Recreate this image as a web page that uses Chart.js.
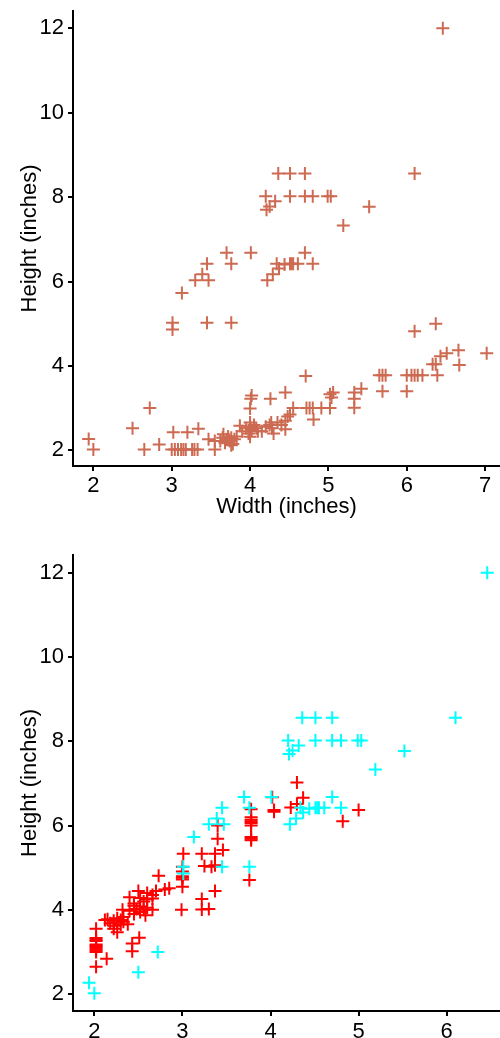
<!DOCTYPE html>
<html><head><meta charset="utf-8">
<script src="https://cdn.jsdelivr.net/npm/chart.js@4.4.0/dist/chart.umd.min.js"></script>
<style>
html,body{margin:0;padding:0;background:#fff;width:500px;height:1038px;overflow:hidden;}
canvas{position:absolute;left:0;}
#c1{top:0}
#c2{top:520px}
</style></head><body>
<canvas id="c1" width="500" height="520"></canvas>
<canvas id="c2" width="500" height="518"></canvas>
<script>
// ---------- DATA ----------
// Top chart: points whose height exceeds width
const tallWidth  = [1.94,2.00,2.50,2.72,3.01,3.01,3.13,3.30,3.39,3.47,3.45,3.45,3.70,3.76,3.76,4.01,4.22,4.29,4.37,4.44,4.34,4.51,4.53,4.55,4.61,4.80,4.70,4.20,4.51,4.70,4.80,4.99,5.03,4.32,4.25,4.21,4.36,4.51,4.70,6.10,5.52,5.19,6.46];
const tallHeight = [2.27,2.02,2.52,3.00,5.02,4.86,5.73,6.03,6.17,6.03,6.42,5.02,6.68,6.42,5.02,6.68,6.03,6.17,6.31,6.40,6.42,6.42,6.42,6.42,6.42,6.42,6.68,8.02,8.02,8.02,8.02,8.02,8.02,7.90,7.78,7.70,8.56,8.56,8.56,8.56,7.77,7.33,12.0];
// Top chart: points whose width exceeds height
const wideWidth  = [2.65,2.84,3.00,3.04,3.08,3.12,3.15,3.18,3.26,3.29,3.33,3.55,3.02,3.20,3.34,3.47,3.55,3.62,3.65,3.68,3.70,3.72,3.74,3.76,3.78,3.80,3.76,3.83,3.66,3.87,3.90,3.95,3.98,4.00,4.02,4.05,4.08,4.10,4.00,4.00,4.00,4.01,4.02,4.15,4.20,4.25,4.28,4.30,4.35,4.40,4.45,4.48,4.51,4.45,4.27,4.26,4.45,4.55,4.72,4.76,4.80,4.91,5.02,4.81,4.71,5.02,5.06,5.04,5.33,5.33,5.33,5.42,5.65,5.69,5.73,5.69,6.00,6.06,6.10,6.14,6.20,6.00,6.39,6.33,6.37,6.43,6.51,6.66,6.67,7.02,6.10,6.37];
const wideHeight = [2.02,2.14,2.02,2.02,2.02,2.02,2.02,2.02,2.02,2.02,2.02,2.02,2.43,2.43,2.51,2.26,2.22,2.22,2.30,2.18,2.26,2.33,2.22,2.30,2.15,2.26,2.12,2.33,2.38,2.58,2.45,2.52,2.40,2.56,2.48,2.60,2.52,2.45,2.66,2.32,2.99,3.22,3.30,2.45,2.56,2.60,2.52,2.40,2.66,2.60,2.70,2.80,2.85,2.50,2.66,3.22,3.37,3.00,3.00,3.00,3.00,3.00,3.00,2.73,3.76,3.33,3.37,3.25,3.37,3.22,3.01,3.46,3.78,3.78,3.78,3.40,3.78,3.78,3.78,3.78,3.78,3.40,3.78,4.04,4.04,4.23,4.30,4.37,4.02,4.30,4.82,5.00];

// Bottom chart: cyan series
const cyanX = [1.94,2.00,2.50,2.72,3.01,3.01,3.13,3.30,3.39,3.47,3.45,3.45,3.70,3.76,3.76,4.01,4.22,4.29,4.37,4.44,4.34,4.51,4.53,4.55,4.61,4.80,4.70,4.20,4.51,4.70,4.80,4.99,5.03,4.32,4.25,4.21,4.36,4.51,4.70,6.10,5.52,5.19,6.46];
const cyanY = [2.27,2.02,2.52,3.00,5.02,4.86,5.73,6.03,6.17,6.03,6.42,5.02,6.68,6.42,5.02,6.68,6.03,6.17,6.31,6.40,6.42,6.42,6.42,6.42,6.42,6.42,6.68,8.02,8.02,8.02,8.02,8.02,8.02,7.90,7.78,7.70,8.56,8.56,8.56,8.56,7.77,7.33,12.0];
// Bottom chart: red series
const redX = [2.02,2.14,2.02,2.02,2.02,2.02,2.02,2.02,2.02,2.02,2.02,2.02,2.43,2.43,2.51,2.26,2.22,2.22,2.30,2.18,2.26,2.33,2.22,2.30,2.15,2.26,2.12,2.33,2.38,2.58,2.45,2.52,2.40,2.56,2.48,2.60,2.52,2.45,2.66,2.32,2.99,3.22,3.30,2.45,2.56,2.60,2.52,2.40,2.66,2.60,2.70,2.80,2.85,2.50,2.66,3.22,3.37,3.00,3.00,3.00,3.00,3.00,3.00,2.73,3.76,3.33,3.37,3.25,3.37,3.22,3.01,3.46,3.78,3.78,3.78,3.40,3.78,3.78,3.78,3.78,3.78,3.40,3.78,4.04,4.04,4.23,4.30,4.37,4.02,4.30,4.82,5.00];
const redY = [2.65,2.84,3.00,3.04,3.08,3.12,3.15,3.18,3.26,3.29,3.33,3.55,3.02,3.20,3.34,3.47,3.55,3.62,3.65,3.68,3.70,3.72,3.74,3.76,3.78,3.80,3.76,3.83,3.66,3.87,3.90,3.95,3.98,4.00,4.02,4.05,4.08,4.10,4.00,4.00,4.00,4.01,4.02,4.15,4.20,4.25,4.28,4.30,4.35,4.40,4.45,4.48,4.51,4.45,4.27,4.26,4.45,4.55,4.72,4.76,4.80,4.91,5.02,4.81,4.71,5.02,5.06,5.04,5.33,5.33,5.33,5.42,5.65,5.69,5.73,5.69,6.00,6.06,6.10,6.14,6.20,6.00,6.39,6.33,6.37,6.43,6.51,6.66,6.67,7.02,6.10,6.37];

const topXTicks = [2,3,4,5,6,7];
const bottomXTicks = [2,3,4,5,6];
const yTicks = [2,4,6,8,10,12];
const xTitle = 'Width (inches)';
const yTitle = 'Height (inches)';

// ---------- helpers ----------
const FONT = "'Liberation Sans', Arial, Helvetica, sans-serif";
const FS = 22;
function pts(xs, ys){ return xs.map((x,i)=>({x:x, y:ys[i]})); }
function fixedTicks(arr){ return s => { s.ticks = arr.map(v=>({value:v})); }; }
function zeroPad(s){ s.paddingTop = 0; s.paddingBottom = 0; s.paddingLeft = 0; s.paddingRight = 0; }
function axisCommon(){
  return {
    grid:{display:true, drawOnChartArea:false, drawTicks:true, tickLength:5, color:'#000', lineWidth:2},
    border:{display:true, color:'#000', width:2}
  };
}
function makeChart(id, datasets, o){
  const xAxis = Object.assign(axisCommon(), {
    type:'linear', min:o.xmin, max:o.xmax,
    afterBuildTicks: fixedTicks(o.xTicks),
    afterFit: s => { s.height = o.xh; zeroPad(s); },
    ticks:{color:'#000', font:{family:FONT, size:FS}, padding:o.xpad, autoSkip:false, maxRotation:0},
    title:{display:!!o.xTitle, text:o.xTitle||'', color:'#000', font:{family:FONT, size:FS}, padding:{top:0,bottom:0}}
  });
  const yAxis = Object.assign(axisCommon(), {
    type:'linear', min:o.ymin, max:o.ymax,
    afterBuildTicks: fixedTicks(yTicks),
    afterFit: s => { s.width = 73; zeroPad(s); },
    ticks:{color:'#000', font:{family:FONT, size:FS}, padding:4, autoSkip:false},
    title:{display:true, text:yTitle, color:'#000', font:{family:FONT, size:FS}, padding:{top:17,bottom:0}}
  });
  return new Chart(document.getElementById(id), {
    type:'scatter',
    data:{datasets:datasets},
    options:{
      responsive:false, animation:false, devicePixelRatio:1,
      layout:{autoPadding:false, padding:{top:o.padTop, left:0, right:0, bottom:0}},
      plugins:{legend:{display:false}, tooltip:{enabled:false}},
      events:[],
      scales:{x:xAxis, y:yAxis}
    }
  });
}
function ds(data, color){
  return {data:data, pointStyle:'cross', pointRadius:6.5, pointBorderWidth:2,
          borderColor:color, backgroundColor:color, pointHoverRadius:6.5, showLine:false, clip:false};
}

makeChart('c1', [ds(pts(tallWidth, tallHeight).concat(pts(wideWidth, wideHeight)), 'rgb(205,106,82)')], {
  xmin:1.74, xmax:7.19, ymin:1.628, ymax:12.41, xTicks:topXTicks, xh:54, xpad:2, padTop:11, xTitle:xTitle
});
makeChart('c2', [ds(pts(cyanX, cyanY), '#00FFFF'), ds(pts(redX, redY), '#FF0000')], {
  xmin:1.758, xmax:6.605, ymin:1.60, ymax:12.42, xTicks:bottomXTicks, xh:27, xpad:3, padTop:35, xTitle:null
});
</script>
</body></html>
